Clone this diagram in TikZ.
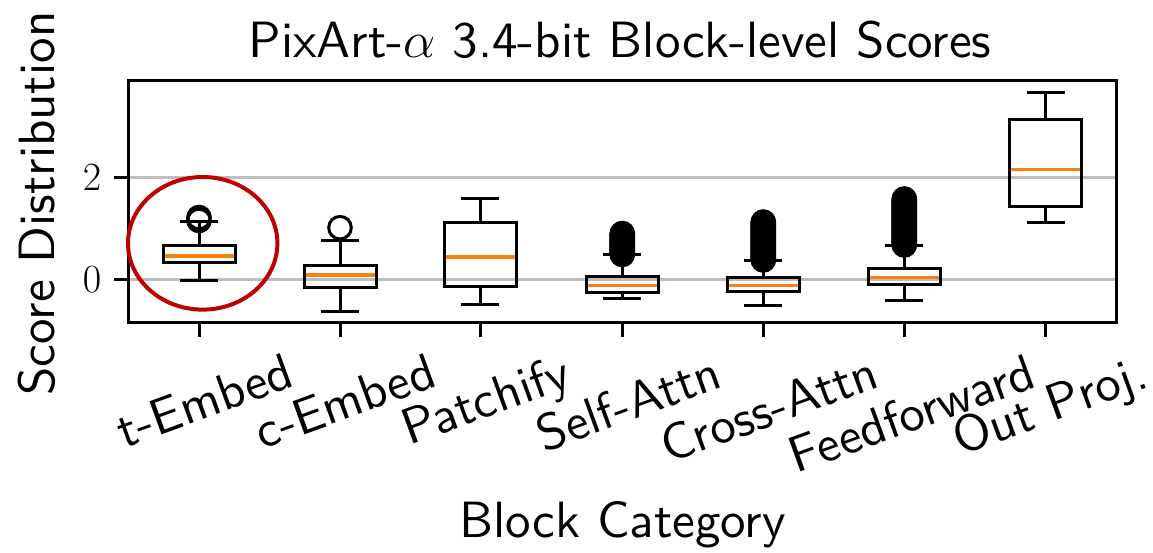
\RequirePackage{fix-cm}
\documentclass[tikz,border=0pt]{standalone}
\usepackage{fontspec}
\setsansfont{lmsans10-regular.otf}
\definecolor{gridgray}{RGB}{190,190,190}
\definecolor{medorange}{RGB}{255,127,14}
\definecolor{markred}{RGB}{192,0,0}
\newcommand\drawbp[6]{% x, lower whisker, q1, median, q3, upper whisker
  \draw[boxline] (#1,#2) -- (#1,#3);
  \draw[boxline] (#1,#5) -- (#1,#6);
  \draw[boxline] (#1-19,#2) -- (#1+19,#2);
  \draw[boxline] (#1-19,#6) -- (#1+19,#6);
  \draw[boxline] (#1-36,#3) rectangle (#1+36,#5);
  \draw[medline] (#1-34.5,#4) -- (#1+34.5,#4);
}
\begin{document}
\begin{tikzpicture}[x=1pt,y=-1pt,
  spine/.style={line width=3pt, black, line cap=rect},
  gridline/.style={line width=2.5pt, gridgray},
  boxline/.style={line width=3pt, black},
  medline/.style={line width=3.3pt, medorange},
  flier/.style={line width=3pt, black},
  ticklbl/.style={font=\fontsize{51}{51}\selectfont\sffamily, rotate=20,
    anchor=north east, inner sep=0pt},
  numlbl/.style={font=\fontsize{40}{40}\selectfont, anchor=east, inner sep=0pt},
  axlbl/.style={font=\fontsize{51}{60}\selectfont\sffamily, inner sep=0pt}]
\useasboundingbox (0,0) rectangle (1153,552);

% horizontal grid at 0 and 2
\draw[gridline] (128,177.3) -- (1116,177.3);
\draw[gridline] (128,279.3) -- (1116,279.3);

% box plots per block category
\drawbp{199}{280}{262.3}{256}{245}{221}
\drawbp{340}{311.7}{287.3}{275}{265}{240}
\drawbp{480}{304.3}{286}{257}{222.7}{198.3}
\drawbp{622.3}{298.7}{292.3}{285.7}{276}{254.3}
\drawbp{763.3}{305}{291.7}{285.7}{277.7}{260}
\drawbp{904.3}{300}{284}{277.7}{268.3}{245.7}
\drawbp{1045.7}{222.7}{206}{169.3}{119.3}{92.3}

% outliers
\foreach \c in {217.5,219,220.5} \draw[flier] (199,\c) circle (11.3);
\draw[flier] (340,227.7) circle (11.3);
\foreach \c in {233.5,234.5,...,255} \draw[flier] (622.3,\c) circle (11.3);
\foreach \c in {222,223,...,260.5} \draw[flier] (763.3,\c) circle (11.3);
\foreach \c in {199,200,...,245.5} \draw[flier] (904.3,\c) circle (11.3);

% axes frame and ticks
\draw[spine] (128,80.5) rectangle (1116,322);
\draw[spine] (115,177.3) -- (128,177.3);
\draw[spine] (115,279.3) -- (128,279.3);
\foreach \x in {199,340,480,622.3,763.3,904.3,1045.7}
  \draw[boxline] (\x,322) -- (\x,337);

% tick labels
\node[numlbl] (ytwo) at (101.5,178) {$2$};
\node[numlbl] (yzero) at (101.5,280) {$0$};
\node[ticklbl] (lt) at (284.5,352) {t-Embed};
\node[ticklbl] (lc) at (427,352) {c-Embed};
\node[ticklbl] (lp) at (561,352) {Patchify};
\node[ticklbl] (ls) at (712,352) {Self-Attn};
\node[ticklbl] (lx) at (869.5,352) {Cross-Attn};
\node[ticklbl] (lf) at (1026,352) {Feedforward};
\node[ticklbl] (lo) at (1138.5,352) {Out Proj.};

% titles
\node[axlbl, anchor=base] (title) at (620,57.5) {PixArt-$\alpha$ 3.4-bit Block-level Scores};
\node[axlbl, anchor=base] (xlab) at (622.5,537.5) {Block Category};
\node[axlbl, anchor=base, rotate=90] (ylab) at (54.5,203.5) {Score Distribution};

% highlight around t-Embed
\draw[markred, line width=4pt] (202.7,243.3) ellipse [x radius=74.7, y radius=66.3];
\end{tikzpicture}
\end{document}
